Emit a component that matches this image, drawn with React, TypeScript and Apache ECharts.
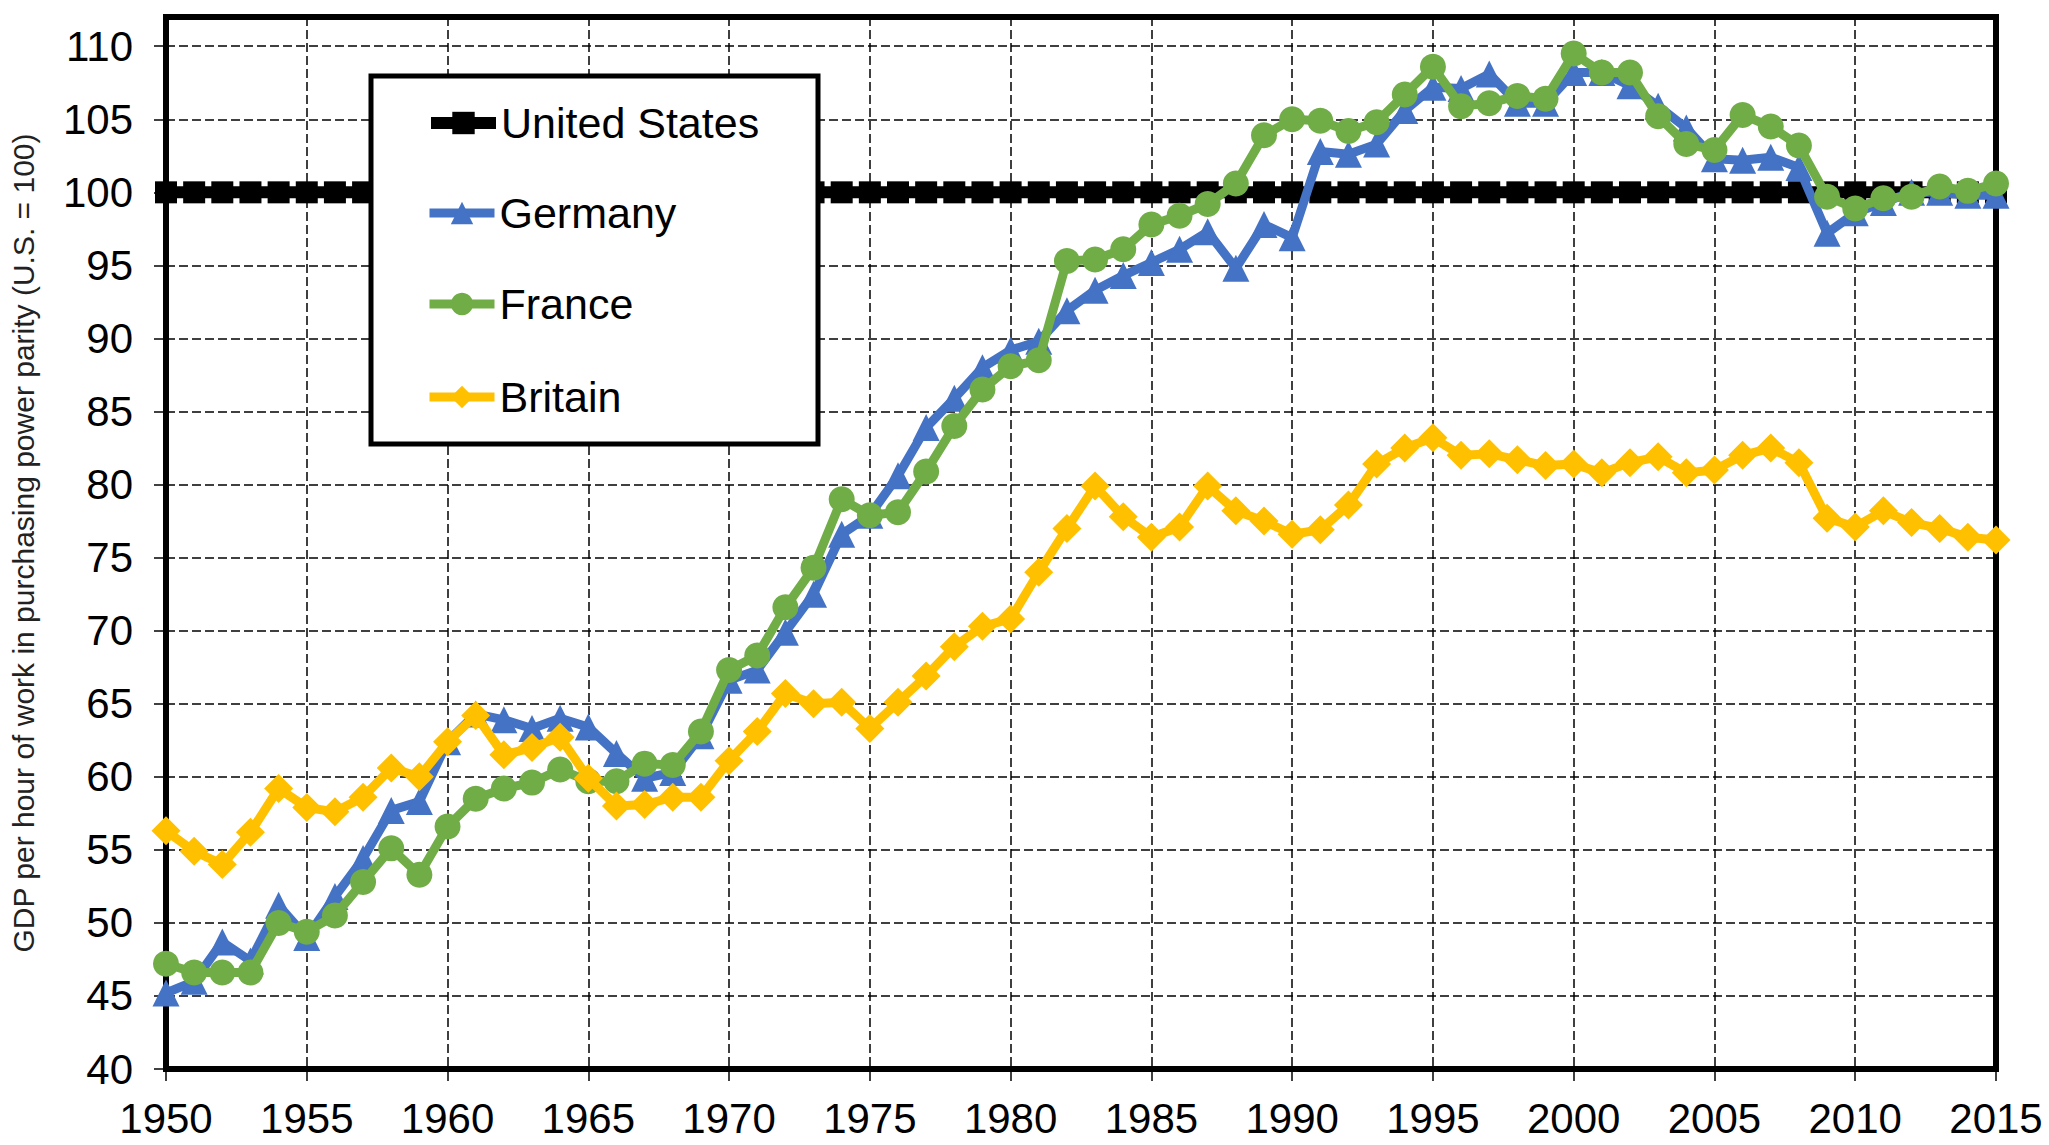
import React, { useEffect, useRef } from 'react';
import * as echarts from 'echarts';

const years = [
  1950, 1951, 1952, 1953, 1954, 1955, 1956, 1957, 1958, 1959,
  1960, 1961, 1962, 1963, 1964, 1965, 1966, 1967, 1968, 1969,
  1970, 1971, 1972, 1973, 1974, 1975, 1976, 1977, 1978, 1979,
  1980, 1981, 1982, 1983, 1984, 1985, 1986, 1987, 1988, 1989,
  1990, 1991, 1992, 1993, 1994, 1995, 1996, 1997, 1998, 1999,
  2000, 2001, 2002, 2003, 2004, 2005, 2006, 2007, 2008, 2009,
  2010, 2011, 2012, 2013, 2014, 2015,
];

const unitedStates = [
  100, 100, 100, 100, 100, 100, 100, 100, 100, 100,
  100, 100, 100, 100, 100, 100, 100, 100, 100, 100,
  100, 100, 100, 100, 100, 100, 100, 100, 100, 100,
  100, 100, 100, 100, 100, 100, 100, 100, 100, 100,
  100, 100, 100, 100, 100, 100, 100, 100, 100, 100,
  100, 100, 100, 100, 100, 100, 100, 100, 100, 100,
  100, 100, 100, 100, 100, 100,
];

const germany = [
  45.2, 46.0, 48.7, 47.4, 51.2, 49.0, 51.8, 54.4, 57.7, 58.3,
  62.4, 64.3, 63.9, 63.3, 64.0, 63.4, 61.6, 59.9, 60.3, 62.8,
  66.6, 67.3, 69.9, 72.5, 76.6, 77.9, 80.6, 83.9, 85.9, 88.0,
  89.2, 89.8, 91.9, 93.3, 94.3, 95.2, 96.1, 97.3, 94.8, 97.8,
  96.9, 102.8, 102.6, 103.3, 105.6, 107.2, 107.1, 108.1, 106.1, 106.1,
  108.2, 108.2, 107.3, 105.9, 104.4, 102.3, 102.2, 102.4, 101.7, 97.2,
  98.6, 99.3, 100.0, 100.0, 99.8, 99.8,
];

const france = [
  47.2, 46.6, 46.6, 46.6, 50.0, 49.4, 50.5, 52.8, 55.1, 53.3,
  56.6, 58.5, 59.2, 59.6, 60.5, 59.7, 59.7, 60.9, 60.8, 63.1,
  67.3, 68.3, 71.6, 74.3, 79.0, 77.9, 78.1, 80.9, 84.0, 86.5,
  88.1, 88.5, 95.3, 95.4, 96.1, 97.8, 98.4, 99.2, 100.6, 103.9,
  105.0, 104.9, 104.2, 104.8, 106.7, 108.6, 105.9, 106.1, 106.6, 106.4,
  109.5, 108.2, 108.2, 105.2, 103.3, 102.9, 105.3, 104.5, 103.2, 99.7,
  98.9, 99.6, 99.7, 100.4, 100.1, 100.6,
];

const britain = [
  56.3, 54.9, 54.0, 56.2, 59.2, 57.9, 57.6, 58.6, 60.6, 60.0,
  62.4, 64.2, 61.5, 62.0, 62.7, 59.9, 58.0, 58.1, 58.6, 58.6,
  61.1, 63.1, 65.7, 65.0, 65.1, 63.3, 65.1, 66.9, 68.9, 70.3,
  70.8, 74.0, 77.0, 79.9, 77.8, 76.4, 77.1, 79.9, 78.2, 77.5,
  76.6, 76.9, 78.6, 81.4, 82.5, 83.2, 82.0, 82.1, 81.7, 81.3,
  81.4, 80.8, 81.5, 81.9, 80.8, 81.0, 82.0, 82.5, 81.5, 77.7,
  77.1, 78.2, 77.4, 77.0, 76.4, 76.2,
];

const yTicks = [40, 45, 50, 55, 60, 65, 70, 75, 80, 85, 90, 95, 100, 105, 110];
const xTicks = [1950, 1955, 1960, 1965, 1970, 1975, 1980, 1985, 1990, 1995, 2000, 2005, 2010, 2015];

const seriesNames = ['United States', 'Germany', 'France', 'Britain'];
const yAxisTitle = 'GDP per hour of work in purchasing power parity (U.S. = 100)';

const FONT = '"Liberation Sans", Arial, sans-serif';

export default function App() {
  const ref = useRef<HTMLDivElement>(null);

  useEffect(() => {
    if (!ref.current) return;
    const chart = echarts.init(ref.current, undefined, { renderer: 'svg' });

    const pair = (vals: number[]) => years.map((y, i) => [y, vals[i]]);
    const styles = [
      { color: '#000000', width: 12, symbol: 'rect', size: 22, values: unitedStates },
      { color: '#4472C4', width: 9, symbol: 'triangle', size: 27, values: germany },
      { color: '#70AD47', width: 9, symbol: 'circle', size: 26, values: france },
      { color: '#FFC000', width: 9, symbol: 'diamond', size: 29, values: britain },
    ];

    const legendTops = [98, 188, 279, 372];

    chart.setOption({
      animation: false,
      backgroundColor: '#ffffff',
      grid: {
        left: 166,
        right: 53,
        top: 17,
        bottom: 76,
        show: true,
        borderColor: '#000',
        borderWidth: 6,
        backgroundColor: 'transparent',
      },
      xAxis: {
        type: 'value',
        min: 1950,
        max: 2015,
        interval: 5,
        axisLine: { show: false },
        axisTick: {
          show: true,
          length: 12,
          lineStyle: { color: '#000', width: 1.5 },
          customValues: xTicks,
        },
        axisLabel: {
          fontSize: 42,
          fontFamily: FONT,
          color: '#000',
          margin: 28,
          customValues: xTicks,
          formatter: (v: number) => String(v),
        },
        splitLine: {
          show: true,
          lineStyle: { color: '#000', width: 1.5, type: [9, 4] },
        },
      },
      yAxis: {
        type: 'value',
        min: 40,
        max: 112,
        interval: 5,
        name: yAxisTitle,
        nameLocation: 'middle',
        nameGap: 128,
        nameTextStyle: { fontSize: 30, fontFamily: FONT, color: '#222' },
        axisLine: { show: false },
        axisTick: {
          show: true,
          length: 12,
          lineStyle: { color: '#000', width: 1.5 },
          customValues: yTicks,
        },
        axisLabel: {
          fontSize: 42,
          fontFamily: FONT,
          color: '#000',
          margin: 33,
          customValues: yTicks,
        },
        splitLine: {
          show: true,
          lineStyle: { color: '#000', width: 1.5, type: [9, 4] },
        },
      },
      graphic: [
        {
          type: 'rect',
          z: 10,
          shape: { x: 371, y: 76, width: 447, height: 368 },
          style: { fill: '#fff', stroke: '#000', lineWidth: 5 },
        },
      ],
      legend: seriesNames.map((name, i) => ({
        data: [name],
        left: 425,
        top: legendTops[i],
        padding: 0,
        itemWidth: 65,
        itemHeight: 28,
        selectedMode: false,
        z: 11,
        lineStyle: { width: styles[i].width, color: styles[i].color },
        itemStyle: { color: styles[i].color },
        textStyle: { fontSize: 43, fontFamily: FONT, color: '#000', lineHeight: 50 },
      })),
      series: styles.map((s, i) => ({
        name: seriesNames[i],
        type: 'line',
        data: pair(s.values),
        symbol: s.symbol,
        symbolSize: s.size,
        clip: false,
        color: s.color,
        itemStyle: { color: s.color },
        lineStyle: { color: s.color, width: s.width },
        z: 2 + i,
      })),
    });

    return () => chart.dispose();
  }, []);

  return (
    <div
      ref={ref}
      style={{ position: 'fixed', left: 0, top: 0, width: 2049, height: 1145, background: '#fff' }}
    />
  );
}
